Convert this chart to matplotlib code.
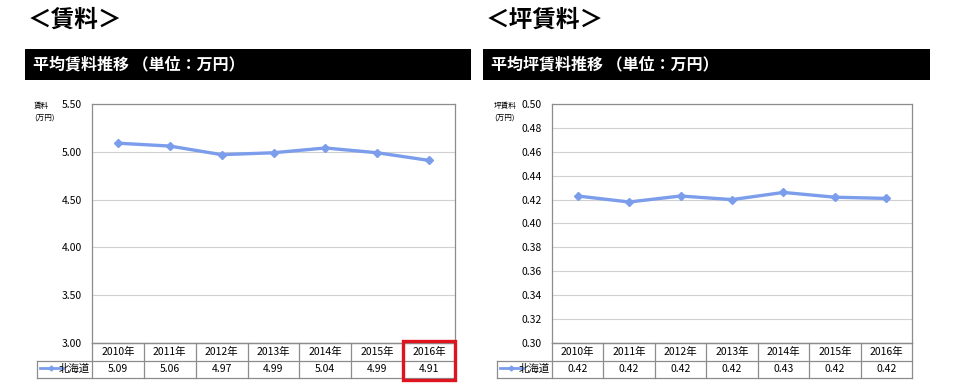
import matplotlib
matplotlib.use("Agg")
import matplotlib.pyplot as plt
from matplotlib.patches import Rectangle

plt.rcParams['font.family'] = ['Noto Sans CJK JP', 'DejaVu Sans']

years = ["2010年", "2011年", "2012年", "2013年", "2014年", "2015年", "2016年"]
series_name = "北海道"
rent = [5.09, 5.06, 4.97, 4.99, 5.04, 4.99, 4.91]
tsubo_rent = [0.423, 0.418, 0.423, 0.420, 0.426, 0.422, 0.421]
rent_ticks = [3.00, 3.50, 4.00, 4.50, 5.00, 5.50]
tsubo_ticks = [0.30, 0.32, 0.34, 0.36, 0.38, 0.40, 0.42, 0.44, 0.46, 0.48, 0.50]

W, H = 960, 386
LINE_C = "#7B9DEB"
GRID_C = "#D0D0D0"
FRAME_C = "#8C8C8C"

fig = plt.figure(figsize=(W / 100, H / 100), dpi=100)


def px_axes(x0, y0, x1, y1):
    return fig.add_axes([x0 / W, 1 - y1 / H, (x1 - x0) / W, (y1 - y0) / H])


def panel(title, band_text, ylab, values, ticks, x_band0, x_band1,
          px0, px1, leg_x0, highlight=False):
    # big title
    fig.text((x_band0 + 3) / W, 1 - 20 / H, title, fontsize=17,
             fontweight='bold', va='center', ha='left')
    # black band
    band = px_axes(x_band0, 49, x_band1, 80)
    band.set_axis_off()
    band.add_patch(Rectangle((0, 0), 1, 1, transform=band.transAxes,
                             color='black'))
    band.text(8 / (x_band1 - x_band0), 0.5, band_text, color='white',
              fontsize=11.5, fontweight='bold', va='center', ha='left',
              transform=band.transAxes)

    py0, py1 = 104, 343
    ax = px_axes(px0, py0, px1, py1)
    n = len(values)
    xs = list(range(n))
    ax.plot(xs, values, color=LINE_C, lw=2.4, marker='D', ms=4,
            mfc=LINE_C, mec=LINE_C, zorder=3)
    ax.set_xlim(-0.5, n - 0.5)
    ax.set_ylim(ticks[0], ticks[-1])
    ax.set_yticks(ticks)
    ax.set_yticklabels([f"{t:.2f}" for t in ticks], fontsize=7.5)
    ax.tick_params(axis='y', length=0, pad=7.5)
    ax.set_xticks([])
    ax.grid(axis='y', color=GRID_C, lw=0.8)
    ax.set_axisbelow(True)
    for s in ax.spines.values():
        s.set_color(FRAME_C)
        s.set_linewidth(0.9)
    fig.text((leg_x0 - 3) / W, 1 - 102 / H, ylab, fontsize=5.5,
             va='top', ha='left', linespacing=1.7)

    # table
    ty0, ty1 = 343, 378
    tab = px_axes(leg_x0, ty0, px1, ty1)
    colw = (px1 - px0) / n
    left = -0.5 - (px0 - leg_x0) / colw
    tab.set_xlim(left, n - 0.5)
    tab.set_ylim(2, 0)
    tab.set_axis_off()
    lkw = dict(color=FRAME_C, lw=0.9, clip_on=False)
    tab.plot([-0.5, n - 0.5], [0, 0], **lkw)
    tab.plot([left, n - 0.5], [1, 1], **lkw)
    tab.plot([left, n - 0.5], [2, 2], **lkw)
    tab.plot([left, left], [1, 2], **lkw)
    for i in range(n + 1):
        tab.plot([i - 0.5, i - 0.5], [0, 2], **lkw)
    for i, (y, v) in enumerate(zip(years, values)):
        tab.text(i, 0.5, y, ha='center', va='center', fontsize=7.5)
        tab.text(i, 1.5, f"{v:.2f}", ha='center', va='center', fontsize=7.5)
    # legend cell
    lx0 = left + 0.05
    lx1 = left + 0.5
    tab.plot([lx0, lx1], [1.45, 1.45], color=LINE_C, lw=2)
    tab.plot([(lx0 + lx1) / 2], [1.45], marker='D', ms=2.5, color=LINE_C)
    tab.text(-0.55, 1.5, series_name, ha='right', va='center', fontsize=7.5)
    if highlight:
        hl = n - 1
        tab.add_patch(Rectangle((hl - 0.5, -0.12), 1.0, 2.24, fill=False,
                                ec='#E0141E', lw=2.4, clip_on=False,
                                zorder=5))
    return ax


panel("＜賃料＞", "平均賃料推移 （単位：万円）", "賃料\n(万円)", rent,
      rent_ticks, 25, 471, 92, 455, 37, highlight=True)
panel("＜坪賃料＞", "平均坪賃料推移 （単位：万円）", "坪賃料\n(万円)", tsubo_rent,
      tsubo_ticks, 483, 930, 552, 912, 497)

fig.savefig("out.png", dpi=100, facecolor='white')
